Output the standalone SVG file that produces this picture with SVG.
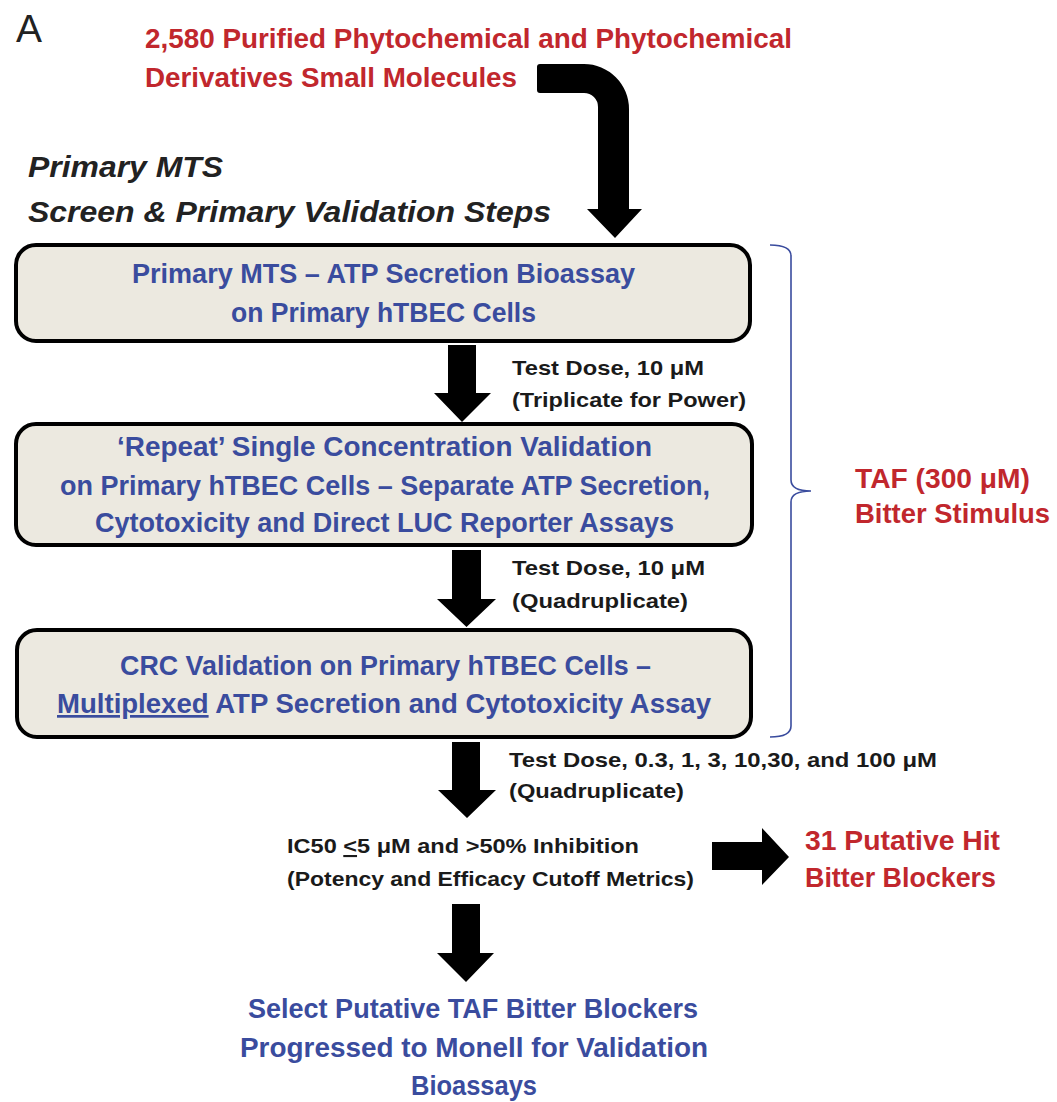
<svg xmlns="http://www.w3.org/2000/svg" width="1057" height="1102" viewBox="0 0 1057 1102">
<style>
text{font-family:"Liberation Sans",Arial,sans-serif;font-weight:bold}
.red{fill:#C1272D;font-size:28px}
.blue{fill:#3A4C9E;font-size:27px}
.lbl{fill:#1a1a1a;font-size:21px}
.ital{fill:#222;font-size:29px;font-style:italic}
.box{fill:#ECE9E0;stroke:#000;stroke-width:4}
.arr{fill:#000}
.ul{text-decoration:underline}
</style>
<rect width="1057" height="1102" fill="#fff"/>
<g id="panel-label"><text x="16" y="42" style="font-weight:normal;font-size:38px;fill:#222" textLength="26" lengthAdjust="spacingAndGlyphs">A</text></g>
<g id="source">
<text class="red" x="145" y="48" textLength="647" lengthAdjust="spacingAndGlyphs">2,580 Purified Phytochemical and Phytochemical</text>
<text class="red" x="145" y="87" textLength="372" lengthAdjust="spacingAndGlyphs">Derivatives Small Molecules</text>
</g>
<g id="heading">
<text class="ital" x="28" y="177" textLength="195" lengthAdjust="spacingAndGlyphs">Primary MTS</text>
<text class="ital" x="28" y="222" textLength="523" lengthAdjust="spacingAndGlyphs">Screen &amp; Primary Validation Steps</text>
</g>
<g id="connectors">
<path class="arr" d="M540,64 L584,64 A45,45 0 0 1 629,109 L629,209 L642,209 L615,238 L587,209 L598,209 L598,107 A14,14 0 0 0 584,93 L540,93 Q537,93 537,90 L537,67 Q537,64 540,64 Z"/>
<polygon class="arr" points="448,345 476,345 476,393 491,393 462,422 434,393 448,393"/>
<polygon class="arr" points="452,550 481,550 481,599 496,599 466.5,627 437,599 452,599"/>
<polygon class="arr" points="452,742 480,742 480,790 496,790 467,818 438,790 452,790"/>
<polygon class="arr" points="712,842 762,842 762,828 789,857 762,885 762,870 712,870"/>
<polygon class="arr" points="452,904 480,904 480,953 494,953 466,982 437,953 452,953"/>
</g>
<g id="box1">
<rect class="box" x="16" y="245" width="734" height="96" rx="20"/>
<text class="blue" x="132" y="283" textLength="503" lengthAdjust="spacingAndGlyphs">Primary MTS – ATP Secretion Bioassay</text>
<text class="blue" x="231" y="322" textLength="305" lengthAdjust="spacingAndGlyphs">on Primary hTBEC Cells</text>
</g>
<g id="label1">
<text class="lbl" x="512" y="375" textLength="192" lengthAdjust="spacingAndGlyphs">Test Dose, 10 μM</text>
<text class="lbl" x="512" y="407" textLength="234" lengthAdjust="spacingAndGlyphs">(Triplicate for Power)</text>
</g>
<g id="box2">
<rect class="box" x="16" y="424" width="736" height="121" rx="20"/>
<text class="blue" x="117" y="456" textLength="535" lengthAdjust="spacingAndGlyphs">‘Repeat’ Single Concentration Validation</text>
<text class="blue" x="60" y="495" textLength="650" lengthAdjust="spacingAndGlyphs">on Primary hTBEC Cells – Separate ATP Secretion,</text>
<text class="blue" x="95" y="532" textLength="579" lengthAdjust="spacingAndGlyphs">Cytotoxicity and Direct LUC Reporter Assays</text>
</g>
<g id="label2">
<text class="lbl" x="512" y="575" textLength="193" lengthAdjust="spacingAndGlyphs">Test Dose, 10 μM</text>
<text class="lbl" x="512" y="608" textLength="176" lengthAdjust="spacingAndGlyphs">(Quadruplicate)</text>
</g>
<g id="box3">
<rect class="box" x="17" y="630" width="734" height="107" rx="20"/>
<text class="blue" x="120" y="675" textLength="531" lengthAdjust="spacingAndGlyphs">CRC Validation on Primary hTBEC Cells –</text>
<text class="blue" x="57" y="713" textLength="654" lengthAdjust="spacingAndGlyphs"><tspan class="ul">Multiplexed</tspan> ATP Secretion and Cytotoxicity Assay</text>
</g>
<g id="stimulus">
<path d="M770,245 Q791,245 791,256 L791,480 Q791,491 811,491 Q791,491 791,502 L791,726 Q791,737 770,737" fill="none" stroke="#3A4C9E" stroke-width="1.6"/>
<text class="red" x="855" y="488" textLength="175" lengthAdjust="spacingAndGlyphs">TAF (300 μM)</text>
<text class="red" x="855" y="523" textLength="195" lengthAdjust="spacingAndGlyphs">Bitter Stimulus</text>
</g>
<g id="label3">
<text class="lbl" x="509" y="767" textLength="428" lengthAdjust="spacingAndGlyphs">Test Dose, 0.3, 1, 3, 10,30, and 100 μM</text>
<text class="lbl" x="509" y="798" textLength="175" lengthAdjust="spacingAndGlyphs">(Quadruplicate)</text>
</g>
<g id="cutoff">
<text class="lbl" x="287" y="853" textLength="352" lengthAdjust="spacingAndGlyphs">IC50 <tspan class="ul">&lt;</tspan>5 μM and &gt;50% Inhibition</text>
<text class="lbl" x="287" y="886" textLength="407" lengthAdjust="spacingAndGlyphs">(Potency and Efficacy Cutoff Metrics)</text>
</g>
<g id="hits">
<text class="red" x="805" y="850" textLength="195" lengthAdjust="spacingAndGlyphs">31 Putative Hit</text>
<text class="red" x="805" y="887" textLength="191" lengthAdjust="spacingAndGlyphs">Bitter Blockers</text>
</g>
<g id="final">
<text class="blue" x="248" y="1018" textLength="450" lengthAdjust="spacingAndGlyphs">Select Putative TAF Bitter Blockers</text>
<text class="blue" x="240" y="1057" textLength="468" lengthAdjust="spacingAndGlyphs">Progressed to Monell for Validation</text>
<text class="blue" x="411" y="1095" textLength="126" lengthAdjust="spacingAndGlyphs">Bioassays</text>
</g>
</svg>
